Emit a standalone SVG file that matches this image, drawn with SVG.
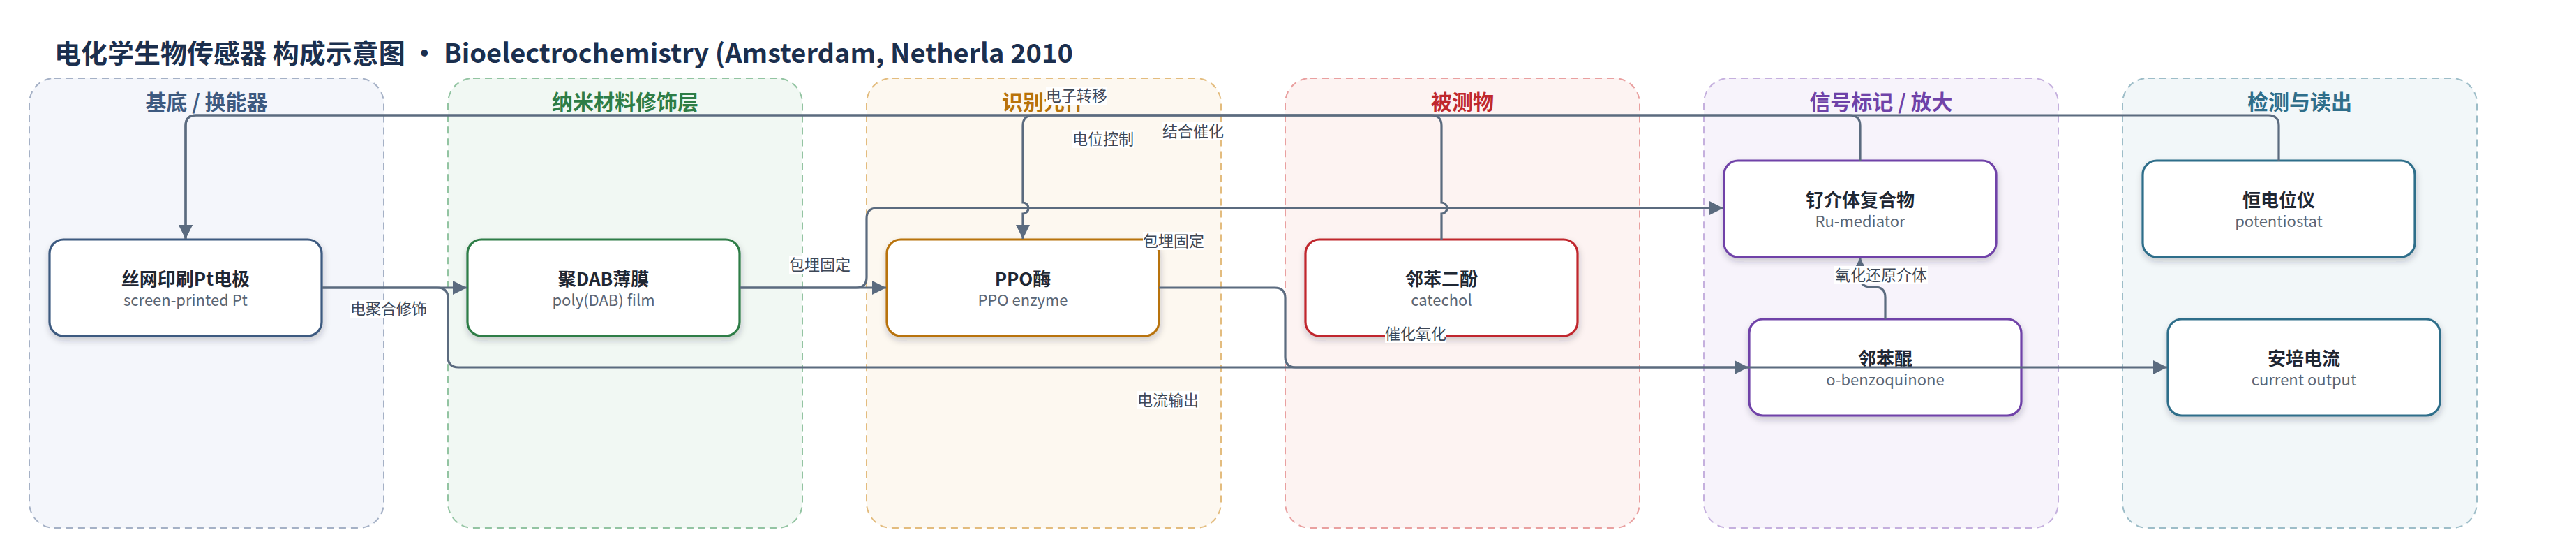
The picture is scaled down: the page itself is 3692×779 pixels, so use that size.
<svg xmlns="http://www.w3.org/2000/svg" width="3692" height="779" viewBox="0 0 3692 779">
<defs>
<style>
text{font-family:"Noto Sans CJK SC","Noto Sans",sans-serif;}
.title{font-size:38px;font-weight:700;fill:#1b2f4e;}
.lane{stroke-width:2;stroke-dasharray:10 7;}
.lt{font-size:30px;font-weight:700;text-anchor:middle;}
.node{fill:#ffffff;stroke-width:3.2;filter:url(#sh);}
.nt{font-size:26px;font-weight:700;fill:#1f2733;text-anchor:middle;}
.ns{font-size:22px;fill:#5b6573;text-anchor:middle;}
.edge{fill:none;stroke:#5b6b7f;stroke-width:3.2;}
.arr{marker-end:url(#ah);}
.lb{font-size:22px;fill:#3d4756;text-anchor:middle;}
.lbg{fill:#ffffff;}
</style>
<marker id="ah" markerUnits="userSpaceOnUse" markerWidth="20" markerHeight="20" refX="20" refY="10" orient="auto">
<path d="M0,0 L20,10 L0,20 Z" fill="#5b6b7f"/>
</marker>
<filter id="sh" x="-10%" y="-10%" width="120%" height="130%">
<feDropShadow dx="1" dy="5" stdDeviation="5" flood-color="#1e293b" flood-opacity="0.22"/>
</filter>
</defs>
<rect width="3692" height="779" fill="#ffffff"/>
<text class="title" x="78" y="90">电化学生物传感器 构成示意图 · Bioelectrochemistry (Amsterdam, Netherla 2010</text>

<g id="lanes">
<g id="lane-substrate"><rect class="lane" x="42" y="112" width="508" height="644" rx="36" fill="#f4f6fb" stroke="#a5b1c6"/><text class="lt" x="296" y="157" fill="#3d5a80">基底 / 换能器</text></g>
<g id="lane-nano"><rect class="lane" x="642" y="112" width="508" height="644" rx="36" fill="#f1f8f3" stroke="#93c4a2"/><text class="lt" x="896" y="157" fill="#2e7d46">纳米材料修饰层</text></g>
<g id="lane-recog"><rect class="lane" x="1242" y="112" width="508" height="644" rx="36" fill="#fdf8f0" stroke="#e3bc7e"/><text class="lt" x="1496" y="157" fill="#b8730a">识别元件</text></g>
<g id="lane-analyte"><rect class="lane" x="1842" y="112" width="508" height="644" rx="36" fill="#fdf3f2" stroke="#e9a0a0"/><text class="lt" x="2096" y="157" fill="#c0282d">被测物</text></g>
<g id="lane-signal"><rect class="lane" x="2442" y="112" width="508" height="644" rx="36" fill="#f7f3fb" stroke="#c5b0de"/><text class="lt" x="2696" y="157" fill="#6f42a8">信号标记 / 放大</text></g>
<g id="lane-readout"><rect class="lane" x="3042" y="112" width="508" height="644" rx="36" fill="#f2f7f9" stroke="#9dbdc8"/><text class="lt" x="3296" y="157" fill="#2f6e8a">检测与读出</text></g>
</g>

<g id="node-electrode"><rect class="node" x="71" y="343" width="390" height="138" rx="20" stroke="#3d5a80"/><text class="nt" x="266" y="409">丝网印刷Pt电极</text><text class="ns" x="266" y="438">screen-printed Pt</text></g>
<g id="node-film"><rect class="node" x="670" y="343" width="390" height="138" rx="20" stroke="#2e7d46"/><text class="nt" x="865" y="409">聚DAB薄膜</text><text class="ns" x="865" y="438">poly(DAB) film</text></g>
<g id="node-ppo"><rect class="node" x="1271" y="343" width="390" height="138" rx="20" stroke="#b8730a"/><text class="nt" x="1466" y="409">PPO酶</text><text class="ns" x="1466" y="438">PPO enzyme</text></g>
<g id="node-catechol"><rect class="node" x="1871" y="343" width="390" height="138" rx="20" stroke="#c0282d"/><text class="nt" x="2066" y="409">邻苯二酚</text><text class="ns" x="2066" y="438">catechol</text></g>
<g id="node-ru"><rect class="node" x="2471" y="230" width="390" height="138" rx="20" stroke="#6f42a8"/><text class="nt" x="2666" y="296">钌介体复合物</text><text class="ns" x="2666" y="325">Ru-mediator</text></g>
<g id="node-quinone"><rect class="node" x="2507" y="457" width="390" height="138" rx="20" stroke="#6f42a8"/><text class="nt" x="2702" y="523">邻苯醌</text><text class="ns" x="2702" y="552">o-benzoquinone</text></g>
<g id="node-potentiostat"><rect class="node" x="3071" y="230" width="390" height="138" rx="20" stroke="#2f6e8a"/><text class="nt" x="3266" y="296">恒电位仪</text><text class="ns" x="3266" y="325">potentiostat</text></g>
<g id="node-current"><rect class="node" x="3107" y="457" width="390" height="138" rx="20" stroke="#2f6e8a"/><text class="nt" x="3302" y="523">安培电流</text><text class="ns" x="3302" y="552">current output</text></g>

<g id="connectors">
<path class="edge arr" d="M461,412 H669"/>
<path class="edge arr" d="M461,412 H627 Q642,412 642,427 V511 Q642,526 657,526 H3106"/>
<path class="edge arr" d="M1060,412 H1270"/>
<path class="edge arr" d="M1060,412 H1227 Q1242,412 1242,397 V313 Q1242,298 1257,298 H2470"/>
<path class="edge arr" d="M1661,412 H1827 Q1842,412 1842,427 V511 Q1842,526 1857,526 H2506"/>
<path class="edge arr" d="M2066,343 V306 A8,8 0 0 0 2066,290 V180 Q2066,165 2051,165 H1481 Q1466,165 1466,180 V290 A8,8 0 0 1 1466,306 V342"/>
<path class="edge arr" d="M2666,230 V180 Q2666,165 2651,165 H281 Q266,165 266,180 V342"/>
<path class="edge arr" d="M3266,230 V180 Q3266,165 3251,165 H281 Q266,165 266,180 V342"/>
<path class="edge arr" d="M2702,457 V426 Q2702,411 2687,411 H2681 Q2666,411 2666,396 V369"/>
</g>

<g id="edge-labels">
<rect class="lbg" x="502" y="429" width="110" height="26"/><text class="lb" x="557" y="450">电聚合修饰</text>
<rect class="lbg" x="1131" y="366" width="88" height="26"/><text class="lb" x="1175" y="387">包埋固定</text>
<rect class="lbg" x="1638" y="332" width="88" height="26"/><text class="lb" x="1682" y="353">包埋固定</text>
<rect class="lbg" x="1499" y="124" width="88" height="26"/><text class="lb" x="1543" y="145">电子转移</text>
<rect class="lbg" x="1537" y="186" width="88" height="26"/><text class="lb" x="1581" y="207">电位控制</text>
<rect class="lbg" x="1666" y="175" width="88" height="26"/><text class="lb" x="1710" y="196">结合催化</text>
<rect class="lbg" x="1985" y="465" width="88" height="26"/><text class="lb" x="2029" y="486">催化氧化</text>
<rect class="lbg" x="1630" y="560" width="88" height="26"/><text class="lb" x="1674" y="581">电流输出</text>
<rect class="lbg" x="2629" y="381" width="134" height="26"/><text class="lb" x="2696" y="402">氧化还原介体</text>
</g>
</svg>
